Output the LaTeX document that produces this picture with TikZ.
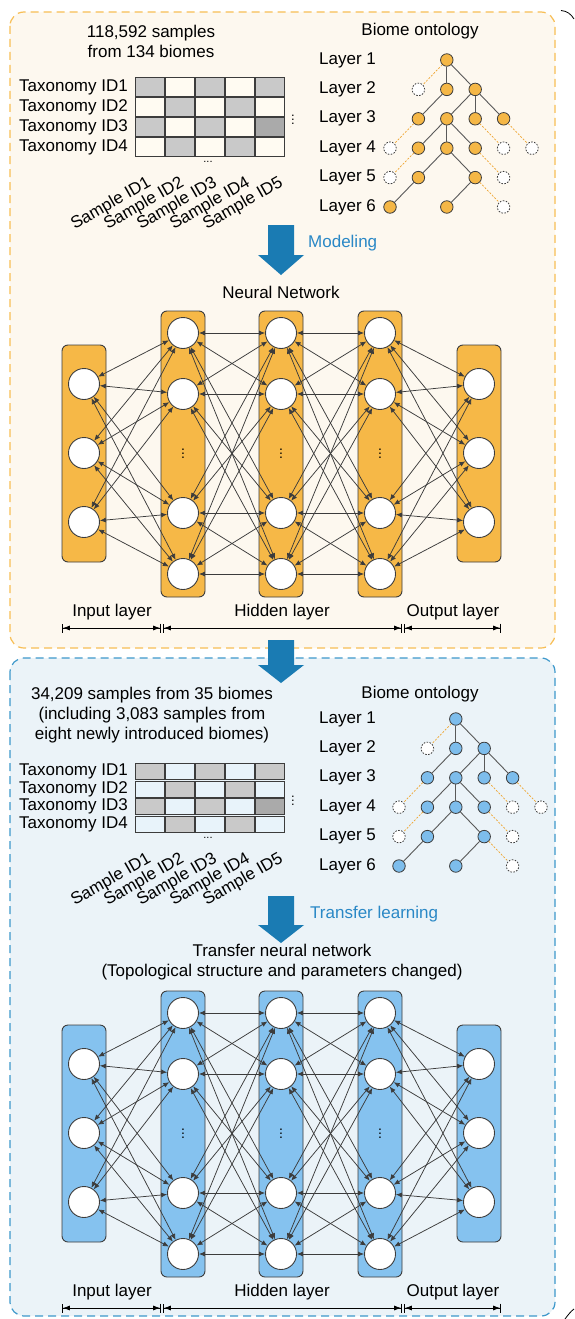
\documentclass[tikz,border=0pt]{standalone}
\usepackage{fontspec}
\setmainfont{Liberation Sans}
\usetikzlibrary{arrows.meta,calc}
\definecolor{panelorange}{HTML}{FDF8EF}
\definecolor{borderorange}{HTML}{F7BE55}
\definecolor{panelblue}{HTML}{EBF3F8}
\definecolor{borderblue}{HTML}{3D98CB}
\definecolor{arrowblue}{HTML}{1A7BB3}
\definecolor{labelblue}{HTML}{2A88C6}
\definecolor{boxorange}{HTML}{F6B847}
\definecolor{boxblue}{HTML}{85C2EF}
\definecolor{dotorange}{HTML}{F5B746}
\definecolor{dotblue}{HTML}{7DBDEC}
\definecolor{cellga}{HTML}{C9C9C9}
\definecolor{cellgb}{HTML}{C9C9C9}
\definecolor{cellda}{HTML}{AAAAAA}
\definecolor{celldb}{HTML}{AAAAAA}
\definecolor{cellwa}{HTML}{FFFBF2}
\definecolor{cellwb}{HTML}{E8F3FA}
\definecolor{edgegray}{HTML}{3C3C3C}
\definecolor{dashorange}{HTML}{EFA52F}
\tikzset{
    panel/.style={
        line width=1.2pt,
        dash pattern=on 8pt off 5pt,
        rounded corners=14pt
    },
    layerbox/.style={
        draw=edgegray,
        line width=0.9pt,
        rounded corners=6pt
    },
    neuron/.style={
        circle,
        draw=edgegray,
        fill=white,
        line width=0.9pt,
        minimum size=31pt,
        inner sep=0pt
    },
    link/.style={
        edgegray,
        line width=0.75pt,
        {Latex[length=6pt,width=5pt]}-{Latex[length=6pt,width=5pt]}
    },
    dimline/.style={
        black,
        line width=0.8pt,
        {Bar[width=9pt]Latex[length=7pt,width=5pt]}-{Latex[length=7pt,width=5pt]Bar[width=9pt]}
    },
    cell/.style={
        rectangle,
        draw=edgegray,
        line width=0.8pt,
        minimum width=28.4pt,
        inner sep=0pt
    },
    tnode/.style={
        circle,
        draw=edgegray,
        line width=0.8pt,
        minimum size=12.5pt,
        inner sep=0pt
    },
    tghost/.style={
        tnode,
        fill=white,
        dash pattern=on 1.6pt off 1.4pt
    },
    tedge/.style={
        draw=edgegray!85,
        line width=0.9pt
    },
    tdash/.style={
        draw=dashorange,
        line width=0.7pt,
        dash pattern=on 2pt off 1.5pt
    }
}

\begin{document}
\begin{tikzpicture}[x=1pt,y=-1pt,font=\fontsize{17}{20}\selectfont,every node/.style={inner sep=1pt}]
\useasboundingbox (0,0) rectangle (574,1319);

% the two panels
\draw[panel, fill=panelorange, draw=borderorange] (10,12) rectangle (555,648);
\draw[panel, fill=panelblue, draw=borderblue] (10,658) rectangle (555,1316);
\draw[line width=0.8pt] (561,10.5) .. controls (567,11) and (571,14) .. (574,19);
\draw[line width=0.8pt] (565,1319) .. controls (568,1315) and (571,1311) .. (574,1309);

% big blue arrows
\foreach \t/\n/\e in {225/255/275, 640/665/683, 896/925/943}
    \fill[arrowblue] (268,\t) -- (294,\t) -- (294,\n) -- (304,\n) -- (281,\e) -- (258,\n) -- (268,\n) -- cycle;
\node[anchor=west, text=labelblue] (modeling) at (307,243) {Modeling};
\node[anchor=west, text=labelblue] (transfer) at (309,914) {Transfer learning};

% sample counts
\node[align=center] (counta) at (151,41) {118,592 samples\\from 134 biomes};
\node[align=center] (countb) at (152,715) {34,209 samples from 35 biomes\\(including 3,083 samples from\\eight newly introduced biomes)};

% abundance tables
\foreach \p/\top/\h in {a/77/20, b/763/17.5}{
    \foreach \row [count=\r] in {{g,w,g,w,g},{w,g,w,g,w},{g,w,g,w,d},{w,g,w,g,w}}
        \foreach \k [count=\c] in \row
            \node[cell, fill=cell\k\p, minimum height=\h*1pt-1.6pt] (\p-c\r\c) at (120+30*\c, \top+\h*\r-\h/2) {};
    \foreach \r in {1,...,4}
        \node[anchor=east] (\p-tax\r) at (129, \top+\h*\r-\h/2) {Taxonomy ID\r};
    \foreach \c in {1,...,5}
        \node[rotate=30, anchor=north east] (\p-s\c) at (113+33*\c, \top+4*\h+16) {Sample ID\c};
    \node (\p-vd) at (293, \top+2*\h) {\fontsize{13}{13}\selectfont$\vdots$};
    \node (\p-hd) at (208, \top+4*\h+5) {\fontsize{11}{11}\selectfont...};
}

% biome ontology trees
\node (onta) at (420,31) {Biome ontology};
\node (ontb) at (420,694) {Biome ontology};
\foreach \p/\tx/\ty/\fc in {a/390/60/dotorange, b/399/719/dotblue}{
    \foreach \r in {1,...,6}
        \node[anchor=west] (\p-lay\r) at (318, \ty+29.4*\r-29.4) {Layer \r};
    \foreach \cc/\r in {2/1, 2/2, 3/2, 1/3, 2/3, 3/3, 4/3, 1/4, 2/4, 3/4, 1/5, 3/5, 0/6, 2/6}
        \node[tnode, fill=\fc] (\p-t\cc\r) at (\tx+28.4*\cc, \ty+29.4*\r-29.4) {};
    \foreach \cc/\r in {1/2, 0/4, 4/4, 5/4, 0/5, 4/5, 4/6}
        \node[tghost] (\p-t\cc\r) at (\tx+28.4*\cc, \ty+29.4*\r-29.4) {};
    \foreach \u/\v in {21/22, 21/32, 22/13, 32/23, 32/33, 32/43, 23/14, 23/24, 23/34, 24/15, 24/35, 15/06, 35/26}
        \draw[tedge] (\p-t\u) -- (\p-t\v);
    \foreach \u/\v in {21/12, 13/04, 33/44, 43/54, 14/05, 34/45, 35/46}
        \draw[tdash] (\p-t\u) -- (\p-t\v);
}

% network titles
\node (nntitle) at (281,292) {Neural Network};
\node[align=center] (tnntitle) at (282,962) {Transfer neural network\\(Topological structure and parameters changed)};

% the two networks
\foreach \p/\dy/\boxcol in {a/0/boxorange, b/680/boxblue}{
    \foreach \x in {84,479}
        \draw[layerbox, fill=\boxcol] (\x-22,345+\dy) rectangle (\x+22,562+\dy);
    \foreach \x in {183,281,380}
        \draw[layerbox, fill=\boxcol] (\x-22,311+\dy) rectangle (\x+22,597+\dy);
    \foreach \y [count=\i] in {384,453,522}{
        \node[neuron] (\p-in\i) at (84,\y+\dy) {};
        \node[neuron] (\p-out\i) at (479,\y+\dy) {};
    }
    \foreach \x [count=\k] in {183,281,380}{
        \foreach \y [count=\i] in {333,394,513,574}
            \node[neuron] (\p-h\k-\i) at (\x,\y+\dy) {};
        \node (\p-dots\k) at (\x,451+\dy) {\fontsize{14}{14}\selectfont$\vdots$};
    }
    \foreach \i in {1,2,3}
        \foreach \j in {1,...,4}{
            \draw[link] (\p-in\i) -- (\p-h1-\j);
            \draw[link] (\p-h3-\j) -- (\p-out\i);
        }
    \foreach \k/\m in {1/2,2/3}
        \foreach \i in {1,...,4}
            \foreach \j in {1,...,4}
                \draw[link] (\p-h\k-\i) -- (\p-h\m-\j);
    % layer spans
    \coordinate (\p-d0) at (62,628+\dy);
    \coordinate (\p-d1) at (161,628+\dy);
    \coordinate (\p-d2) at (163,628+\dy);
    \coordinate (\p-d3) at (402,628+\dy);
    \coordinate (\p-d4) at (404,628+\dy);
    \coordinate (\p-d5) at (501,628+\dy);
    \draw[dimline] (\p-d0) -- (\p-d1);
    \draw[dimline] (\p-d2) -- (\p-d3);
    \draw[dimline] (\p-d4) -- (\p-d5);
    \node (\p-lin) at (112,612+\dy) {Input layer};
    \node (\p-lhid) at (282,612+\dy) {Hidden layer};
    \node (\p-lout) at (453,612+\dy) {Output layer};
}
\end{tikzpicture}
\end{document}
